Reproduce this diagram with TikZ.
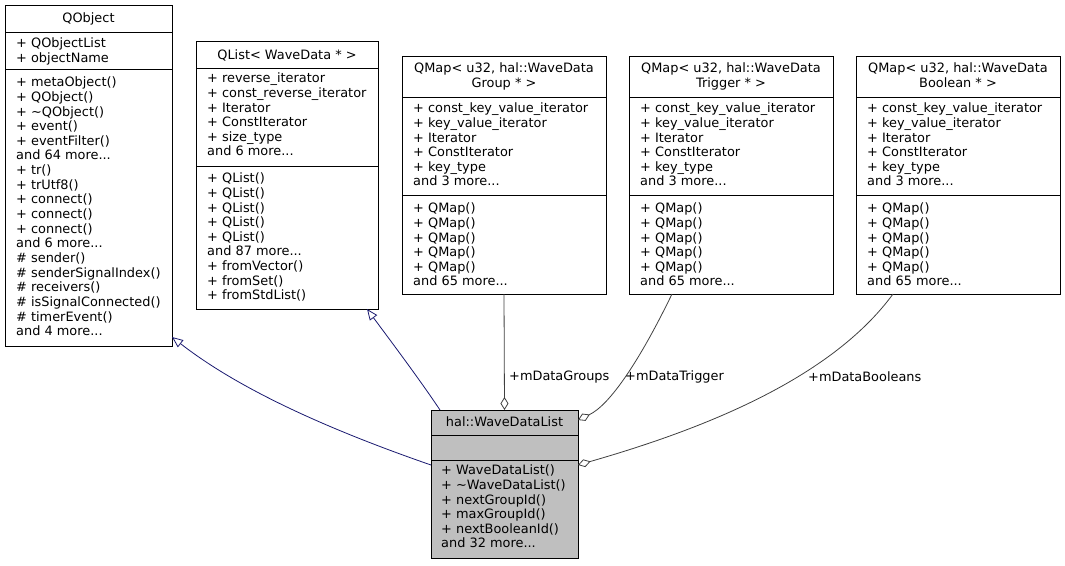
\documentclass[tikz,border=0pt]{standalone}
\usepackage{fontspec}
\setmainfont{DejaVu Sans}
\usetikzlibrary{arrows.meta,calc}
\newcommand{\Lr}{\rule{0pt}{10pt}}
\begin{document}
\begin{tikzpicture}[x=1pt,y=-1pt,
  box/.style={draw=black,line width=0.8pt,anchor=north west,inner sep=0,outer sep=0},
  txt/.style={anchor=north west,inner sep=0,align=left,font=\fontsize{12.9}{14.65}\selectfont},
  ttl/.style={anchor=north,inner sep=0,align=center,font=\fontsize{12.9}{14.65}\selectfont},
  inh/.style={draw={rgb,255:red,25;green,25;blue,112},line width=0.8pt,-{Triangle[open,length=11pt,width=9pt]}},
  agg/.style={draw={rgb,255:red,64;green,64;blue,64},line width=0.8pt,-{Diamond[open,length=13pt,width=8pt]}},
  lbl/.style={anchor=west,inner sep=0,font=\fontsize{12.9}{14}\selectfont}]
\useasboundingbox (0,0) rectangle (1065,565);
% boxes
\node[box,minimum width=167pt,minimum height=341pt] (qobj) at (5,5) {};
\draw (5,32) -- (172,32) (5,69) -- (172,69);
\node[ttl] at (88.5,12) {\Lr QObject};
\node[txt] at (16,37.5) {\Lr + QObjectList\\+ objectName};
\node[txt] at (16,76.5) {\Lr + metaObject()\\+ QObject()\\+ \textasciitilde QObject()\\+ event()\\+ eventFilter()\\and 64 more...\\+ tr()\\+ trUtf8()\\+ connect()\\+ connect()\\+ connect()\\and 6 more...\\\# sender()\\\# senderSignalIndex()\\\# receivers()\\\# isSignalConnected()\\\# timerEvent()\\and 4 more...};

\node[box,minimum width=182pt,minimum height=268pt] (qlist) at (196,41) {};
\draw (196,68) -- (378,68) (196,166) -- (378,166);
\node[ttl] at (287,49) {\Lr QList< WaveData * >};
\node[txt] at (207,72.5) {\Lr + reverse\_iterator\\+ const\_reverse\_iterator\\+ Iterator\\+ ConstIterator\\+ size\_type\\and 6 more...};
\node[txt] at (207,172.5) {\Lr + QList()\\+ QList()\\+ QList()\\+ QList()\\+ QList()\\and 87 more...\\+ fromVector()\\+ fromSet()\\+ fromStdList()};

\foreach \nm/\xx/\tt in {qg/402/Group, qt/629/Trigger, qb/856/Boolean}{
  \node[box,minimum width=204pt,minimum height=238pt] (\nm) at (\xx,56) {};
  \draw (\xx,97) -- ($(\xx,97)+(204,0)$) (\xx,195) -- ($(\xx,195)+(204,0)$);
  \node[ttl] at ($(\xx,62.5)+(102,0)$) {\Lr QMap< u32, hal::WaveData\\\tt\ * >};
  \node[txt] at ($(\xx,102.5)+(11,0)$) {\Lr + const\_key\_value\_iterator\\+ key\_value\_iterator\\+ Iterator\\+ ConstIterator\\+ key\_type\\and 3 more...};
  \node[txt] at ($(\xx,202.5)+(11,0)$) {\Lr + QMap()\\+ QMap()\\+ QMap()\\+ QMap()\\+ QMap()\\and 65 more...};
}

\node[box,fill={rgb,255:red,191;green,191;blue,191},minimum width=147pt,minimum height=148pt] (wdl) at (431,410) {};
\draw (431,435) -- (578,435) (431,460) -- (578,460);
\node[ttl] at (504.5,416.5) {\Lr hal::WaveDataList};
\node[txt] at (441,464.5) {\Lr + WaveDataList()\\+ \textasciitilde WaveDataList()\\+ nextGroupId()\\+ maxGroupId()\\+ nextBooleanId()\\and 32 more...};

% edges
\draw[inh] ($(wdl.north west)+(0,55)$) .. controls (330,430) and (240,390) .. ($(qobj.south east)+(0,-9)$);
\draw[inh] ($(wdl.north west)+(9,0)$) .. controls (420,380) and (390,340) .. ($(qlist.south east)+(-11,0)$);
\draw[agg] (qg.south) -- (wdl.north);
\draw[agg] ($(qt.south west)+(43,0)$) .. controls (640,360) and (610,405) .. ($(wdl.north east)+(0,10)$);
\draw[agg] ($(qb.south west)+(37,0)$) .. controls (830,380) and (700,430) .. ($(wdl.north east)+(0,55)$);
\node[lbl] (l1) at (509,377) {+mDataGroups};
\node[lbl] (l2) at (625,377) {+mDataTrigger};
\node[lbl] (l3) at (808,377) {+mDataBooleans};
\end{tikzpicture}
\end{document}
